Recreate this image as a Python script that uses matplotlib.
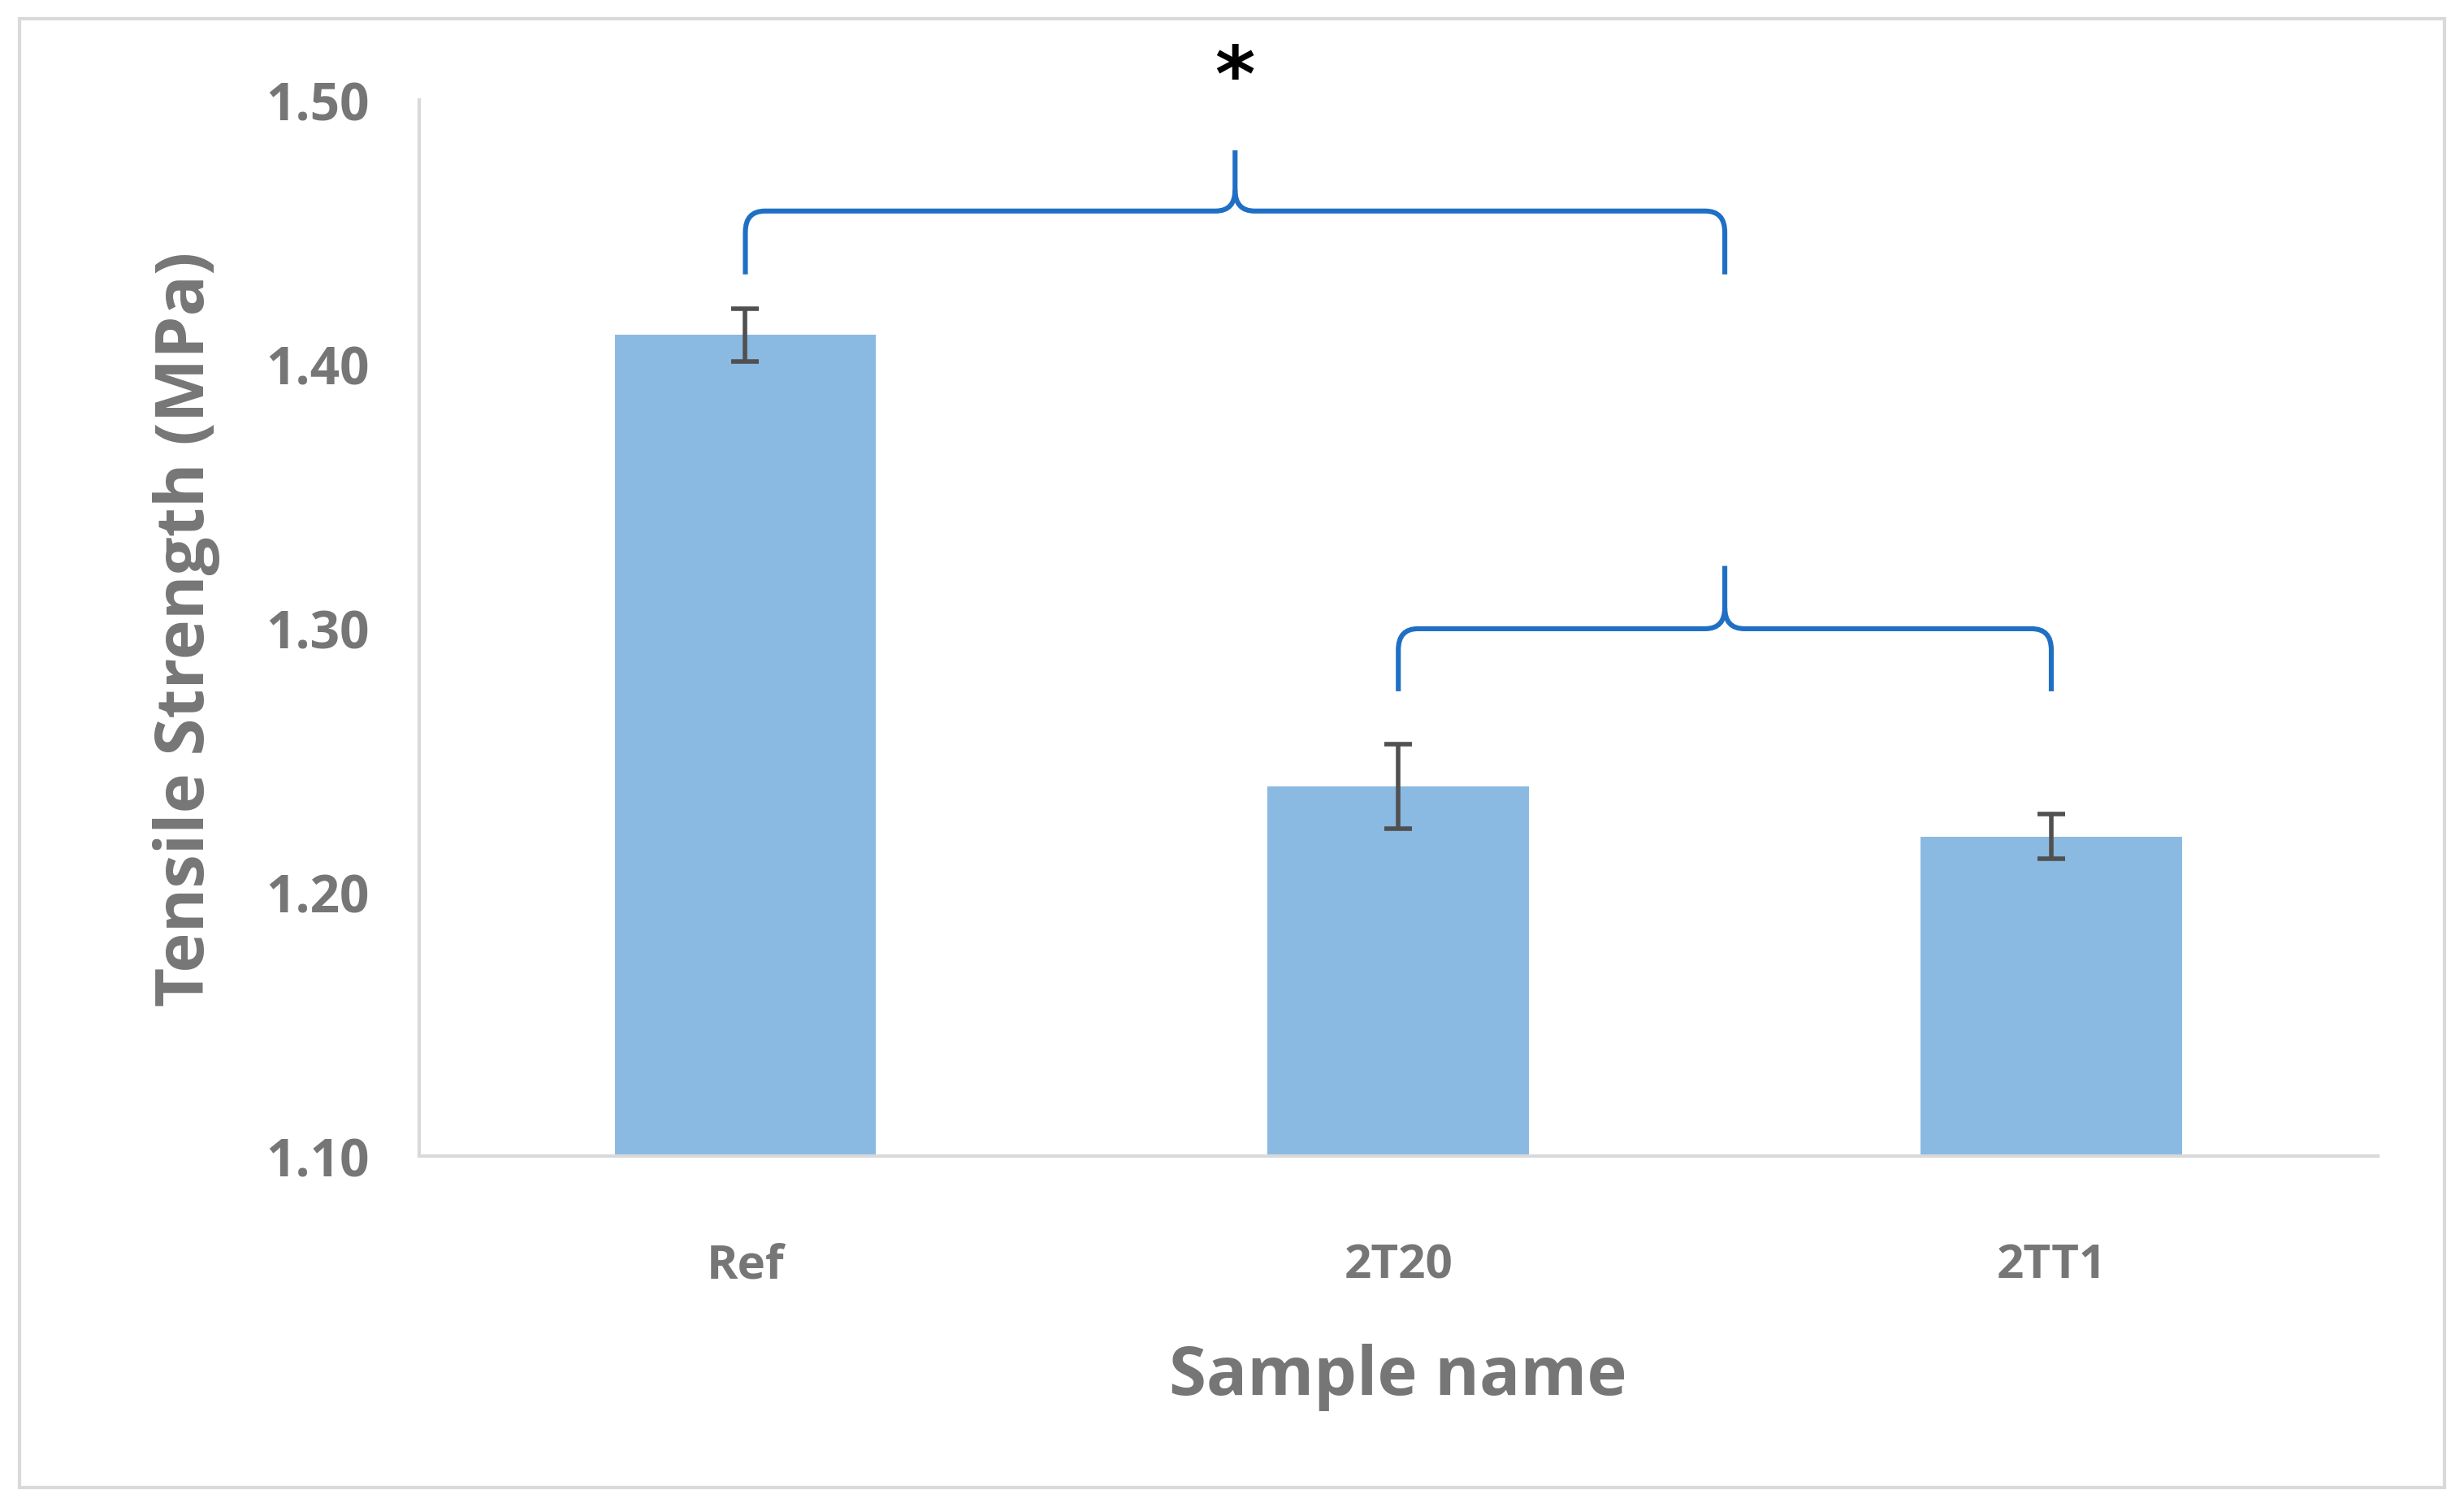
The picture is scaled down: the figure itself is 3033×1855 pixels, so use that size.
import matplotlib
matplotlib.use("Agg")
import matplotlib.pyplot as plt
from matplotlib.path import Path
from matplotlib.patches import PathPatch, Rectangle

categories = ["Ref", "2T20", "2TT1"]
values = [1.411, 1.240, 1.221]
errors = [0.010, 0.016, 0.0085]
yticks = [1.10, 1.20, 1.30, 1.40, 1.50]

fig = plt.figure(figsize=(15.165, 9.28), dpi=200)
ax = fig.add_axes([0.170, 0.233, 0.795, 0.700])
gray = "#767676"
font = "Open Sans"

x = range(len(categories))
ax.bar(x, [v - 1.10 for v in values], bottom=1.10, width=0.4, color="#8ab9e1", zorder=2)
ax.errorbar(x, values, yerr=errors, fmt="none", ecolor="#505050", elinewidth=2, capsize=6, capthick=2, zorder=3)
ax.set_xlim(-0.5, 2.5)
ax.set_ylim(1.10, 1.50)
ax.set_yticks(yticks)
ax.set_yticklabels([f"{t:.2f}" for t in yticks], fontfamily=font, fontweight="bold", fontsize=23, color=gray)
ax.set_xticks(list(x))
ax.set_xticklabels(categories, fontfamily=font, fontweight="bold", fontsize=21, color=gray)
ax.tick_params(axis="y", length=0, pad=22)
ax.tick_params(axis="x", length=0, pad=38)
for s in ["top", "right"]:
    ax.spines[s].set_visible(False)
ax.spines["left"].set_color("#d9d9d9")
ax.spines["bottom"].set_color("#d9d9d9")
ax.spines["left"].set_linewidth(1.5)
ax.spines["bottom"].set_linewidth(1.5)
ax.set_xlabel("Sample name", fontfamily=font, fontweight="bold", fontsize=30, color=gray, labelpad=24)
ax.set_ylabel("Tensile Strength (MPa)", fontfamily=font, fontweight="bold", fontsize=30, color=gray, labelpad=20)

def brace(x0, x1, ybar, yend, ytip, r=0.03, ry=0.008):
    xm = (x0 + x1) / 2
    verts = [(x0, yend), (x0, ybar - ry), (x0, ybar), (x0 + r, ybar),
             (xm - r, ybar), (xm, ybar), (xm, ybar + ry), (xm, ytip)]
    codes = [Path.MOVETO, Path.LINETO, Path.CURVE3, Path.CURVE3,
             Path.LINETO, Path.CURVE3, Path.CURVE3, Path.LINETO]
    verts2 = [(x1, yend), (x1, ybar - ry), (x1, ybar), (x1 - r, ybar),
              (xm + r, ybar), (xm, ybar), (xm, ybar + ry)]
    codes2 = [Path.MOVETO, Path.LINETO, Path.CURVE3, Path.CURVE3,
              Path.LINETO, Path.CURVE3, Path.CURVE3]
    for v, c in ((verts, codes), (verts2, codes2)):
        ax.add_patch(PathPatch(Path(v, c), fill=False, edgecolor="#1f6fc5", lw=2.2, clip_on=False, zorder=4))

brace(0.0, 1.5, 1.458, 1.434, 1.481)
brace(1.0, 2.0, 1.2997, 1.276, 1.3235)
ax.text(0.75, 1.508, "*", ha="center", va="center", fontsize=34, fontweight="bold", color="black", clip_on=False)

fig.patches.append(Rectangle((0.008, 0.013), 0.984, 0.974, transform=fig.transFigure,
                             fill=False, edgecolor="#d9d9d9", lw=1.5))
fig.savefig("out.png", dpi=200)
